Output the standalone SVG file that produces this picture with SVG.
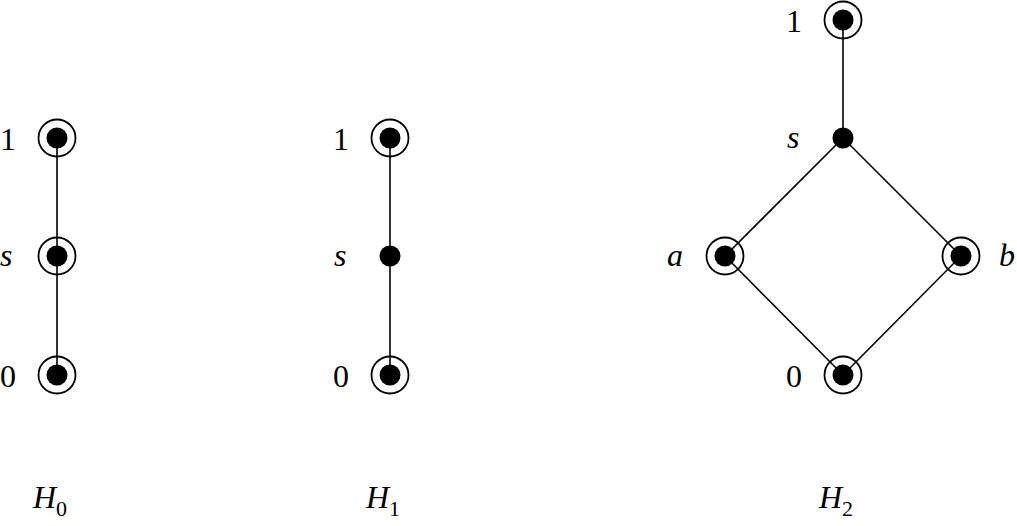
<svg xmlns="http://www.w3.org/2000/svg" width="1017" height="526" viewBox="0 0 1017 526">
<style>
.e{stroke:#000;stroke-width:1.6;fill:none}
.d{fill:#000}
.r{fill:none;stroke:#000;stroke-width:1.8}
.t{font-family:"Liberation Serif",serif;font-size:32px;fill:#000}
.i{font-style:italic}
.sub{font-size:22px;font-style:normal}
</style>
<defs>
<g id="ring"><circle r="18.5" class="r"/><circle r="10.5" class="d"/></g>
<g id="dot"><circle r="10.5" class="d"/></g>
</defs>
<g id="connectors">
<line class="e" x1="57" y1="138" x2="57" y2="375"/>
<line class="e" x1="390" y1="138" x2="390" y2="375"/>
<line class="e" x1="843" y1="20" x2="843" y2="138"/>
<line class="e" x1="843" y1="138" x2="725" y2="256"/>
<line class="e" x1="843" y1="138" x2="961" y2="256"/>
<line class="e" x1="725" y1="256" x2="843" y2="375"/>
<line class="e" x1="961" y1="256" x2="843" y2="375"/>
</g>
<g id="h0-1"><use href="#ring" x="57" y="138"/><text class="t" x="0" y="150">1</text></g>
<g id="h0-s"><use href="#ring" x="57" y="256"/><text class="t i" x="0" y="266">s</text></g>
<g id="h0-0"><use href="#ring" x="57" y="375"/><text class="t" x="0" y="387">0</text></g>
<g id="h1-1"><use href="#ring" x="390" y="138"/><text class="t" x="333" y="150">1</text></g>
<g id="h1-s"><use href="#dot" x="390" y="256"/><text class="t i" x="334" y="266">s</text></g>
<g id="h1-0"><use href="#ring" x="390" y="375"/><text class="t" x="333" y="387">0</text></g>
<g id="h2-1"><use href="#ring" x="843" y="20"/><text class="t" x="786" y="32">1</text></g>
<g id="h2-s"><use href="#dot" x="843" y="138"/><text class="t i" x="787" y="148">s</text></g>
<g id="h2-a"><use href="#ring" x="725" y="256"/><text class="t i" x="667" y="266">a</text></g>
<g id="h2-b"><use href="#ring" x="961" y="256"/><text class="t i" x="999" y="266">b</text></g>
<g id="h2-0"><use href="#ring" x="843" y="375"/><text class="t" x="786" y="387">0</text></g>
<text class="t i" x="33" y="508">H<tspan class="sub" dy="8">0</tspan></text>
<text class="t i" x="366" y="508">H<tspan class="sub" dy="8">1</tspan></text>
<text class="t i" x="819" y="508">H<tspan class="sub" dy="8">2</tspan></text>
</svg>
